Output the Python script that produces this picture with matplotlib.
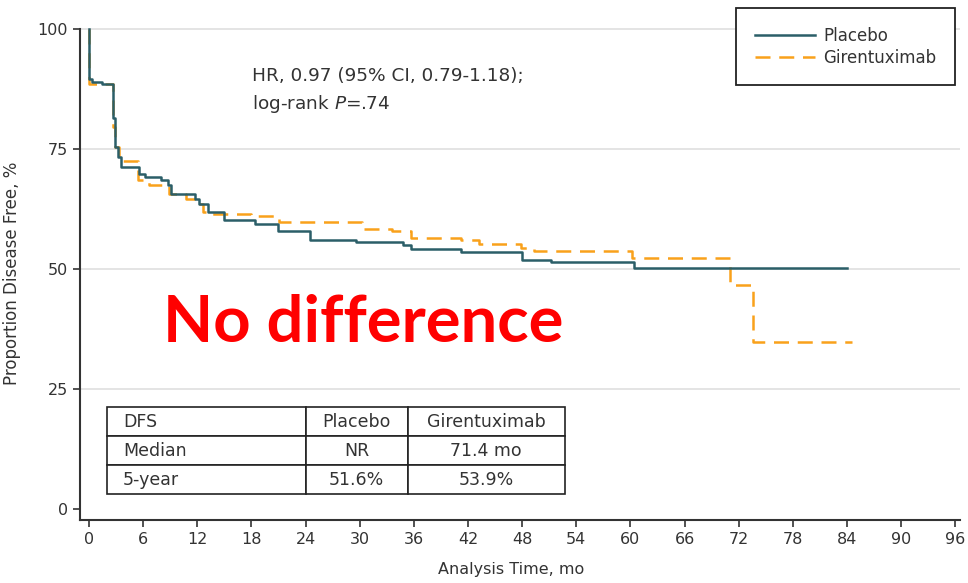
import numpy as np
import matplotlib.pyplot as plt

# Kaplan-Meier step points (time in months, % disease free)
placebo_t = [0, 0.05, 0.3, 1.4, 2.7, 2.9, 3.2, 3.6, 5.5, 6.2, 8.0, 8.8, 9.1, 11.7, 12.2,
             13.2, 15.0, 18.4, 20.9, 24.5, 29.6, 34.8, 35.7, 41.2, 48.0, 51.2, 60.4, 84.0]
placebo_s = [100, 89.6, 88.8, 88.5, 81.5, 75.3, 73.2, 71.2, 69.8, 69.1, 68.4, 67.4, 65.6, 64.6, 63.5,
             61.8, 60.1, 59.4, 57.8, 56.0, 55.6, 54.9, 54.2, 53.5, 51.9, 51.4, 50.1, 50.1]

giren_t = [0, 0.05, 2.7, 2.9, 3.3, 3.6, 5.4, 6.7, 8.9, 10.8, 12.1, 12.6, 13.2, 18.0, 21.0,
           30.3, 33.6, 35.7, 41.2, 43.2, 47.9, 49.3, 60.2, 71.0, 73.6, 84.5]
giren_s = [100, 88.5, 79.5, 75.3, 73.2, 72.4, 68.4, 67.4, 65.6, 64.6, 63.5, 61.8, 61.5, 61.0, 59.7,
           58.2, 57.8, 56.5, 55.9, 55.1, 54.4, 53.7, 52.3, 46.6, 34.8, 34.8]

x_ticks = list(range(0, 97, 6))
y_ticks = [0, 25, 50, 75, 100]

table_rows = [["DFS", "Placebo", "Girentuximab"],
              ["Median", "NR", "71.4 mo"],
              ["5-year", "51.6%", "53.9%"]]

teal = "#2b5e68"
orange = "#f9a11b"
txt = "#333333"

fig = plt.figure(figsize=(9.68, 5.83), dpi=100)
ax = fig.add_axes([0.0826, 0.108, 0.909, 0.847])

xmin, xmax = -1.0, 96.5
ymin, ymax = -2.3, 100.5
ax.set_xlim(xmin, xmax)
ax.set_ylim(ymin, ymax)

for y in [25, 50, 75, 100]:
    ax.axhline(y, color="#e2e2e2", lw=1.3, zorder=0)

ax.step(placebo_t, placebo_s, where="post", color=teal, lw=1.8, label="Placebo", zorder=3)
ax.step(giren_t, giren_s, where="post", color=orange, lw=1.8, ls=(0, (6, 3.5)),
        label="Girentuximab", zorder=2)

ax.set_xticks(x_ticks)
ax.set_yticks(y_ticks)
ax.tick_params(axis="both", labelsize=11.5, colors="#333333", labelcolor=txt, length=5, width=1.2)
for s in ["top", "right"]:
    ax.spines[s].set_visible(False)
for s in ["left", "bottom"]:
    ax.spines[s].set_color("#333333")
    ax.spines[s].set_linewidth(1.5)
ax.spines["left"].set_bounds(ymin, 100)

ax.set_xlabel("Analysis Time, mo", fontsize=11.5, color=txt)
ax.xaxis.set_label_coords(0.49, -0.085)
ax.set_ylabel("Proportion Disease Free, %", fontsize=12, color=txt, labelpad=12)

ax.text(18.1, 90.2, "HR, 0.97 (95% CI, 0.79-1.18);", fontsize=13.3, color=txt, va="center")
ax.text(18.1, 84.4, "log-rank $\\it{P}$=.74", fontsize=13.3, color=txt, va="center")

ax.text(30.4, 38.6, "No difference", fontsize=47, color="#ff0000", fontweight="bold",
        family=["Lato", "DejaVu Sans"], ha="center", va="center")

# DFS summary table
def ax_x(v):
    return (v - xmin) / (xmax - xmin)

def ax_y(v):
    return (v - ymin) / (ymax - ymin)

tx0, tx1 = 2.0, 52.7
ty0, ty1 = 3.1, 21.2
tbl = ax.table(cellText=table_rows, cellLoc="center",
               colWidths=[22.0, 11.3, 17.4],
               bbox=[ax_x(tx0), ax_y(ty0), ax_x(tx1) - ax_x(tx0), ax_y(ty1) - ax_y(ty0)])
tbl.auto_set_font_size(False)
for (r, c), cell in tbl.get_celld().items():
    cell.set_linewidth(1.2)
    cell.set_edgecolor("#222222")
    cell.set_facecolor("white")
    cell.get_text().set_fontsize(12.5)
    cell.get_text().set_color(txt)
    if c == 0:
        cell.get_text().set_ha("left")
        cell._loc = "left"
        cell.PAD = 0.08

leg = ax.legend(loc="upper right", bbox_to_anchor=(0.994, 1.036), fontsize=12,
                handlelength=3.6, fancybox=False, edgecolor="#222222", framealpha=1,
                borderpad=1.1, labelspacing=0.25, handletextpad=0.5, borderaxespad=0)
leg.get_frame().set_linewidth(1.3)
for t in leg.get_texts():
    t.set_color(txt)

fig.savefig("out.png", dpi=100)
